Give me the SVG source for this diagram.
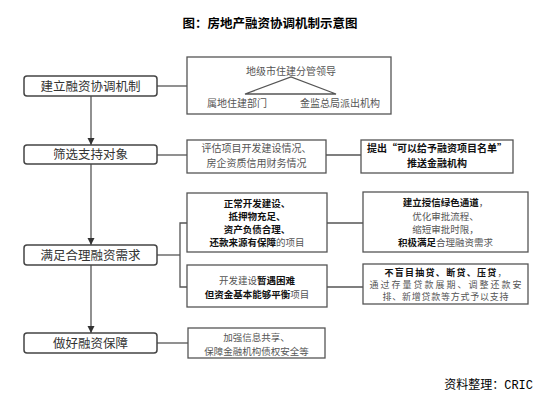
<svg xmlns="http://www.w3.org/2000/svg" width="549" height="406" viewBox="0 0 549 406">
<defs>
<style>
.main{fill:#fff;stroke:#444;stroke-width:1.5}
.box{fill:#fff;stroke:#555;stroke-width:1.3}
.ln{fill:none;stroke:#555;stroke-width:1.3}
text{font-family:"Noto Sans CJK SC","Microsoft YaHei",sans-serif;text-anchor:middle}
.mt{font-size:12.5px;fill:#333}
.t{font-size:10px;fill:#555}
.m{font-size:9.5px}
.s{font-size:9px}
.b{font-weight:bold;fill:#111}
.n{font-weight:normal;fill:#555}
</style>
<marker id="arr" viewBox="0 0 10 10" refX="10" refY="5" markerWidth="7" markerHeight="8" markerUnits="userSpaceOnUse" orient="auto">
<path d="M0,0 L10,5 L0,10 Z" fill="#333"/>
</marker>
</defs>
<rect width="549" height="406" fill="#fff"/>
<text x="270" y="27.5" style="font-size:12.5px;font-weight:bold;fill:#000">图：房地产融资协调机制示意图</text>

<g id="connectors">
<line class="ln" x1="91" y1="96" x2="91" y2="145" marker-end="url(#arr)"/>
<line class="ln" x1="91" y1="164" x2="91" y2="245" marker-end="url(#arr)"/>
<line class="ln" x1="91" y1="265" x2="91" y2="333" marker-end="url(#arr)"/>
<line class="ln" x1="157" y1="86" x2="187" y2="86"/>
<line class="ln" x1="157" y1="155" x2="187" y2="155"/>
<line class="ln" x1="326" y1="155" x2="361" y2="155"/>
<polyline class="ln" points="157,255 180,255"/>
<polyline class="ln" points="187,223 180,223 180,287 187,287"/>
<line class="ln" x1="327" y1="223" x2="363" y2="223"/>
<line class="ln" x1="327" y1="287" x2="363" y2="287"/>
<line class="ln" x1="157" y1="343" x2="188" y2="343"/>
</g>

<g id="n1">
<rect class="main" x="24" y="76" width="133" height="20" rx="3"/>
<text class="mt" x="90.5" y="90.5">建立融资协调机制</text>
</g>
<g id="n2">
<rect class="main" x="24" y="145" width="133" height="19" rx="3"/>
<text class="mt" x="90.5" y="159">筛选支持对象</text>
</g>
<g id="n3">
<rect class="main" x="24" y="245" width="133" height="20" rx="3"/>
<text class="mt" x="90.5" y="259.5">满足合理融资需求</text>
</g>
<g id="n4">
<rect class="main" x="24" y="333" width="133" height="20" rx="3"/>
<text class="mt" x="90.5" y="347.5">做好融资保障</text>
</g>

<g id="r1">
<rect class="box" x="187" y="57" width="204" height="57"/>
<polygon class="ln" points="245,94 291,77 336,94"/>
<text class="t" x="291" y="75">地级市住建分管领导</text>
<text class="t" x="237" y="107">属地住建部门</text>
<text class="t" x="340" y="107">金监总局派出机构</text>
</g>

<g id="r2">
<rect class="box" x="187" y="140" width="139" height="33"/>
<text class="t" x="256.5" y="151.5">评估项目开发建设情况、</text>
<text class="t" x="256.5" y="166.5">房企资质信用财务情况</text>
</g>
<g id="r3">
<rect class="box" x="361" y="140" width="152" height="33"/>
<text class="t b" x="437" y="151.5">提出“可以给予融资项目名单”</text>
<text class="t b" x="437" y="166.5">推送金融机构</text>
</g>

<g id="r4">
<rect class="box" x="187" y="193" width="140" height="59"/>
<text class="t m b" x="257" y="206.5">正常开发建设、</text>
<text class="t m b" x="257" y="219.5">抵押物充足、</text>
<text class="t m b" x="257" y="232.5">资产负债合理、</text>
<text class="t m" x="257" y="245.5"><tspan class="b">还款来源有保障</tspan><tspan class="n">的项目</tspan></text>
</g>
<g id="r5">
<rect class="box" x="187" y="265" width="140" height="42"/>
<text class="t m" x="257" y="284"><tspan class="n">开发建设</tspan><tspan class="b">暂遇困难</tspan></text>
<text class="t m" x="257" y="297.5"><tspan class="b">但资金基本能够平衡</tspan><tspan class="n">项目</tspan></text>
</g>

<g id="r6">
<rect class="box" x="363" y="192" width="165" height="60"/>
<text class="t m" x="445.5" y="206"><tspan class="b">建立授信绿色通道</tspan><tspan class="n">，</tspan></text>
<text class="t m" x="445.5" y="219.5">优化审批流程、</text>
<text class="t m" x="445.5" y="232.5">缩短审批时限，</text>
<text class="t m" x="445.5" y="245.5"><tspan class="b">积极满足</tspan><tspan class="n">合理融资需求</tspan></text>
</g>
<g id="r7">
<rect class="box" x="363" y="264" width="165" height="40"/>
<text class="t s" x="445.5" y="276" textLength="122" lengthAdjust="spacing"><tspan class="b">不盲目抽贷、断贷、压贷</tspan><tspan class="n">，</tspan></text>
<text class="t s" x="445.5" y="288" textLength="152" lengthAdjust="spacing">通过存量贷款展期、调整还款安</text>
<text class="t s" x="445.5" y="300" textLength="126" lengthAdjust="spacing">排、新增贷款等方式予以支持</text>
</g>

<g id="r8">
<rect class="box" x="188" y="328" width="137" height="30"/>
<text class="t m" x="256.5" y="341">加强信息共享、</text>
<text class="t m" x="256.5" y="354.5">保障金融机构债权安全等</text>
</g>

<text x="533" y="389" style="font-size:12px;fill:#000;text-anchor:end;font-family:'Liberation Mono','Noto Sans CJK SC',monospace">资料整理：CRIC</text>
</svg>
